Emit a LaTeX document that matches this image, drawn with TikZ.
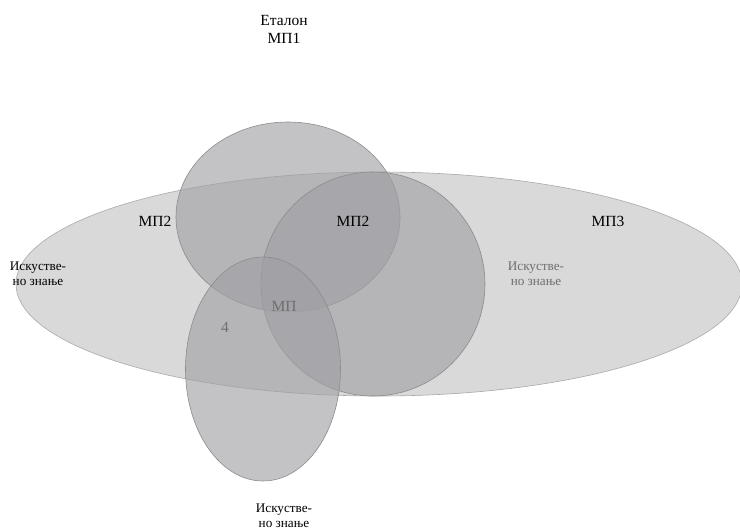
\documentclass[tikz,border=0pt]{standalone}
\usepackage{fontspec}
\setmainfont{Liberation Serif}
\begin{document}
\begin{tikzpicture}[x=1pt,y=-1pt,
  region/.style={fill={rgb,255:red,160;green,160;blue,164},fill opacity=0.63,draw={rgb,255:red,140;green,140;blue,142},line width=0.6pt},
  bigregion/.style={fill={rgb,255:red,160;green,160;blue,164},fill opacity=0.4,draw={rgb,255:red,170;green,170;blue,172},line width=0.6pt},
  lbl/.style={font=\fontsize{15.5}{18}\selectfont,text=black,inner sep=0pt},
  small/.style={font=\fontsize{13.2}{15}\selectfont,align=center,inner sep=0pt},
  dim/.style={text={rgb,255:red,110;green,110;blue,112}}]
\useasboundingbox (0,0) rectangle (740,532);
\clip (0,0) rectangle (740,532);
\fill[white] (0,0) rectangle (740,532);
\draw[bigregion] (379,284) ellipse [x radius=363, y radius=112];
\draw[region] (288,217) ellipse [x radius=112, y radius=95];
\draw[region] (373,284) circle [radius=112];
\draw[region] (263,369) ellipse [x radius=77.5, y radius=112];
\node[small,font=\fontsize{15.5}{18}\selectfont] (etalon) at (284,29) {Еталон\\МП1};
\node[lbl] (mp2a) at (155,221) {МП2};
\node[lbl] (mp2b) at (353,221) {МП2};
\node[lbl] (mp3) at (608,221) {МП3};
\node[small] (iskL) at (38,274) {Искустве-\\но знање};
\node[small,dim] (iskR) at (536,274) {Искустве-\\но знање};
\node[lbl,dim] (mp) at (284,306) {МП};
\node[lbl,dim] (four) at (225,327) {4};
\node[small] (iskB) at (284,516) {Искустве-\\но знање};
\end{tikzpicture}
\end{document}
